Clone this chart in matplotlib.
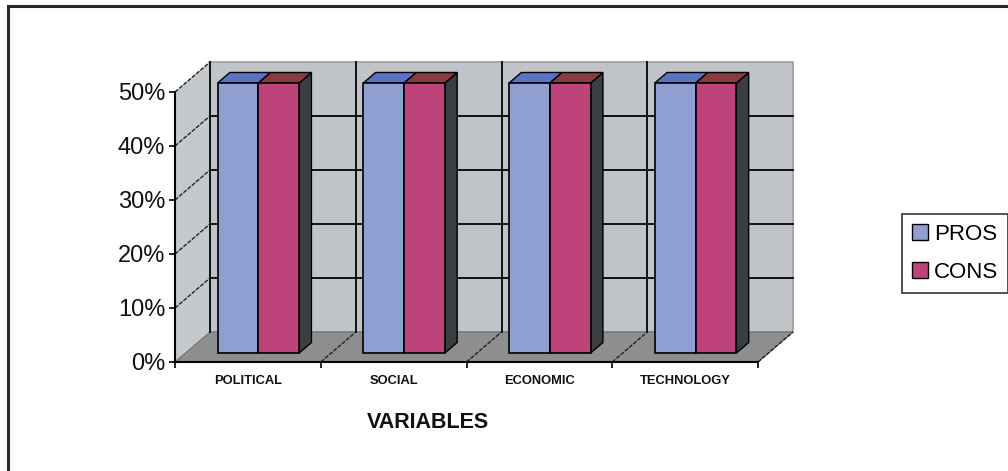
import numpy as np
import matplotlib
matplotlib.use("Agg")
import matplotlib.pyplot as plt
from matplotlib.patches import Polygon, Rectangle, Patch

categories = ["POLITICAL", "SOCIAL", "ECONOMIC", "TECHNOLOGY"]
series = ["PROS", "CONS"]
pros = [50, 50, 50, 50]
cons = [50, 50, 50, 50]
yticks = [0, 10, 20, 30, 40, 50]
ytick_labels = ["0%", "10%", "20%", "30%", "40%", "50%"]

front_col = {"PROS": "#8F9FD1", "CONS": "#BE437B"}
top_col = {"PROS": "#5B73C4", "CONS": "#8A3A42"}
side_col = "#3A3E41"

plt.rcParams["font.family"] = ["Liberation Sans", "DejaVu Sans"]

W, H = 1008, 471
fig = plt.figure(figsize=(W / 100, H / 100), dpi=100)
fig.patch.set_facecolor("white")

# front plane of the 3d box: x in category units, y in percent
x0px, x1px, y0px, y1px = 175, 758, 362, 92
ax = fig.add_axes([x0px / W, 1 - y0px / H, (x1px - x0px) / W, (y0px - y1px) / H])
ax.set_xlim(0, len(categories))
ax.set_ylim(0, 50)
ax.set_facecolor("none")

# depth of the box in data units
dx = 35 / ((x1px - x0px) / len(categories))
dy = 30 / ((y0px - y1px) / 50)
ymax = 50
n = len(categories)

# walls and floor
ax.add_patch(Rectangle((dx, dy), n, ymax, facecolor="#C0C3C7", edgecolor="#9A9C9E",
                       lw=1.2, clip_on=False, zorder=0))
ax.add_patch(Polygon([(0, 0), (0, ymax), (dx, ymax + dy), (dx, dy)], closed=True,
                     facecolor="#C6C9CC", edgecolor="none", clip_on=False, zorder=0))
ax.add_patch(Polygon([(0, 0), (dx, dy), (n + dx, dy), (n, 0)], closed=True,
                     facecolor="#8D8E90", edgecolor="#6E6F70", lw=0.8, clip_on=False, zorder=0))

# gridlines on back wall and side wall
for v in yticks[1:-1]:
    ax.plot([dx, n + dx], [v + dy, v + dy], color="#111111", lw=1.4, clip_on=False, zorder=1)
for v in yticks[1:]:
    ax.plot([0, dx], [v, v + dy], color="#222222", lw=1.0, ls=(0, (3, 1)),
            clip_on=False, zorder=1)
ax.plot([dx, dx], [dy, ymax + dy], color="#111111", lw=1.4, clip_on=False, zorder=1)
for k in range(1, n):
    ax.plot([k + dx, k + dx], [dy, ymax + dy], color="#111111", lw=1.4, clip_on=False, zorder=1)
for k in range(1, n + 1):
    ax.plot([k, k + dx], [0, dy], color="#222222", lw=1.0, ls=(0, (3, 1)),
            clip_on=False, zorder=1)

# 3d bars
z0, z1 = 0.30, 0.65
w = 0.28
values = {"PROS": pros, "CONS": cons}
for i in range(n):
    for j, s in enumerate(series):
        v = values[s][i]
        xl = i + 0.5 - w + j * w
        xr = xl + w
        fx, fy = z0 * dx, z0 * dy
        bx, by = z1 * dx, z1 * dy
        ax.add_patch(Polygon([(xr + fx, fy), (xr + bx, by), (xr + bx, v + by), (xr + fx, v + fy)],
                             closed=True, facecolor=side_col, edgecolor="black", lw=1.0,
                             clip_on=False, zorder=2 + j))
        ax.add_patch(Polygon([(xl + fx, v + fy), (xr + fx, v + fy), (xr + bx, v + by), (xl + bx, v + by)],
                             closed=True, facecolor=top_col[s], edgecolor="black", lw=1.0,
                             clip_on=False, zorder=2 + j))
        ax.bar(xl + fx, v, width=w, bottom=fy, align="edge", color=front_col[s],
               edgecolor="black", lw=1.2, clip_on=False, zorder=2 + j)

# axes styling
for sp in ["top", "right"]:
    ax.spines[sp].set_visible(False)
ax.spines["left"].set_linewidth(1.5)
ax.spines["bottom"].set_linewidth(1.5)
ax.spines["left"].set_zorder(5)
ax.spines["bottom"].set_zorder(5)
ax.set_yticks(yticks)
ax.set_yticklabels(ytick_labels, fontsize=17, color="#111111")
ax.tick_params(axis="y", length=4, width=1.2, pad=3)
ax.set_xticks(range(n + 1))
ax.set_xticklabels([])
ax.set_xticks(np.arange(n) + 0.5, minor=True)
ax.set_xticklabels(categories, minor=True, fontsize=9.3, fontweight="bold", color="#111111")
ax.tick_params(axis="x", which="major", length=4, width=1.2)
ax.tick_params(axis="x", which="minor", length=0, pad=9)

fig.text(428 / W, 1 - 423 / H, "VARIABLES", ha="center", va="center",
         fontsize=15.5, fontweight="bold", color="#111111")

handles = [Patch(facecolor=front_col[s], edgecolor="black", lw=1.0) for s in series]
leg = fig.legend(handles, series, loc="upper left", bbox_to_anchor=(902 / W, 1 - 214 / H),
                 fontsize=16, frameon=True, fancybox=False, handlelength=0.7, handleheight=0.7,
                 handletextpad=0.3, borderpad=0.45, labelspacing=0.75, borderaxespad=0)
leg.get_frame().set_edgecolor("black")
leg.get_frame().set_linewidth(1.2)

# outer frame
fig.add_artist(Rectangle((8 / W, -0.1), 1.2, 1 - 6 / H + 0.1, transform=fig.transFigure,
                         facecolor="none", edgecolor="#2A2A2A", lw=2.2, zorder=10))

fig.savefig("out.png", dpi=100)
